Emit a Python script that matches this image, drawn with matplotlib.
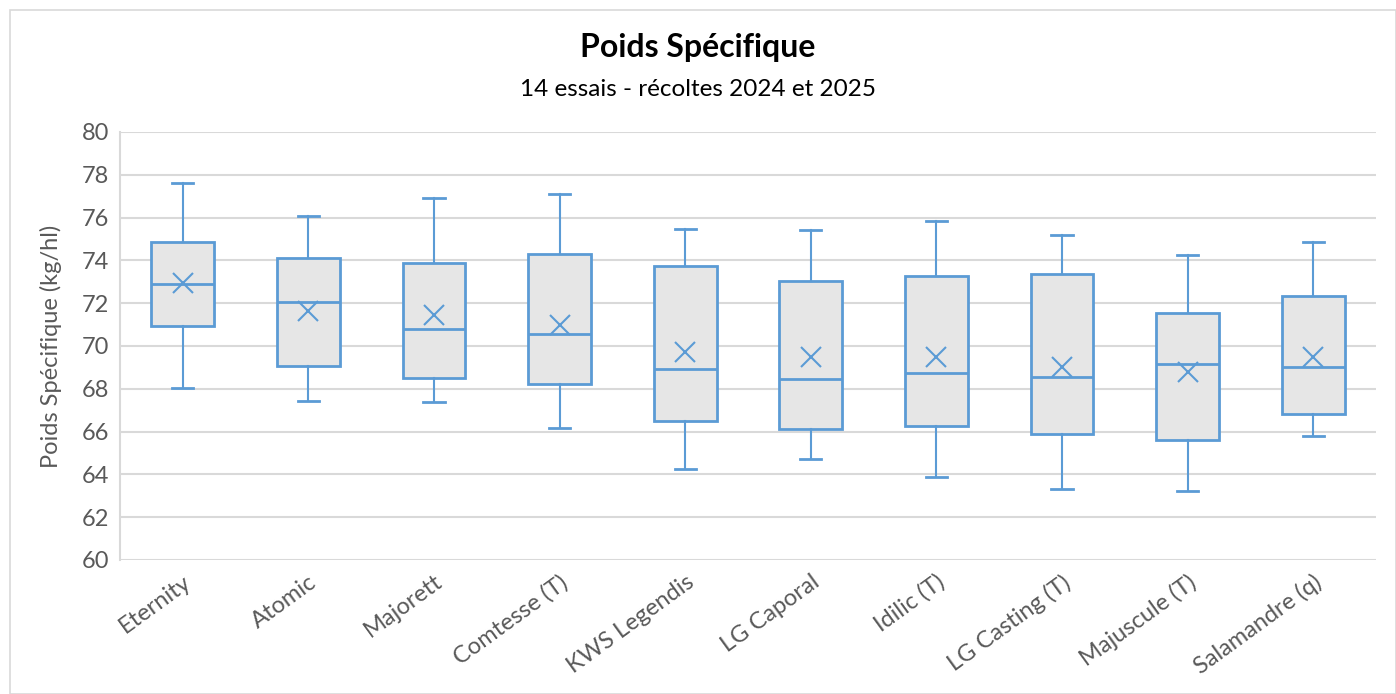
import numpy as np
import matplotlib.pyplot as plt
from matplotlib.patches import Rectangle

plt.rcParams['font.family'] = ['Lato', 'DejaVu Sans']

varietes = ['Eternity', 'Atomic', 'Majorett', 'Comtesse (T)', 'KWS Legendis',
            'LG Caporal', 'Idilic (T)', 'LG Casting (T)', 'Majuscule (T)', 'Salamandre (q)']
minimum = [68.04, 67.43, 67.38, 66.17, 64.25, 64.72, 63.88, 63.32, 63.22, 65.79]
q1 = [70.93, 69.07, 68.50, 68.22, 66.50, 66.12, 66.26, 65.89, 65.60, 66.82]
mediane = [72.90, 72.06, 70.79, 70.56, 68.93, 68.46, 68.74, 68.55, 69.16, 69.02]
moyenne = [72.94, 71.64, 71.45, 70.98, 69.72, 69.49, 69.49, 69.02, 68.79, 69.49]
q3 = [74.86, 74.11, 73.88, 74.30, 73.74, 73.04, 73.27, 73.36, 71.54, 72.34]
maximum = [77.60, 76.07, 76.92, 77.10, 75.47, 75.42, 75.84, 75.19, 74.25, 74.86]

bleu = '#5B9BD5'
gris_txt = '#595959'

stats = []
for i in range(len(varietes)):
    stats.append({'label': varietes[i], 'whislo': minimum[i], 'q1': q1[i], 'med': mediane[i],
                  'mean': moyenne[i], 'q3': q3[i], 'whishi': maximum[i], 'fliers': []})

fig = plt.figure(figsize=(13.96, 6.94), dpi=100)
fig.patches.append(Rectangle((10/1396, 0), 1 - 10/1396, 1 - 10/694, transform=fig.transFigure,
                             fill=False, edgecolor='#D9D9D9', lw=1.2))
ax = fig.add_axes([120/1396, 134/694, 1256/1396, 428/694])

pos = np.arange(1, len(varietes) + 1)
ax.bxp(stats, positions=pos, widths=0.5, capwidths=0.17, showmeans=True, patch_artist=True,
       boxprops=dict(facecolor='#E6E6E6', edgecolor=bleu, lw=2),
       medianprops=dict(color=bleu, lw=2),
       whiskerprops=dict(color=bleu, lw=1.5),
       capprops=dict(color=bleu, lw=2),
       meanprops=dict(marker='x', markeredgecolor=bleu, markersize=14, markeredgewidth=1.5))

ax.set_xlim(0.5, len(varietes) + 0.5)
ax.set_ylim(60, 80)
ax.set_yticks(np.arange(60, 81, 2))
ax.yaxis.grid(True, color='#D9D9D9', lw=1.5)
ax.set_axisbelow(True)
for s in ['top', 'right', 'bottom']:
    ax.spines[s].set_visible(False)
ax.spines['left'].set_color('#D9D9D9')
ax.spines['left'].set_linewidth(1.5)
ax.tick_params(length=0, labelsize=17, colors=gris_txt, pad=8)
ax.set_xticks(pos)
ax.set_xticklabels(varietes, rotation=36, ha='right', rotation_mode='anchor', fontsize=17)
ax.set_ylabel('Poids Spécifique (kg/hl)', fontsize=17, color=gris_txt, labelpad=14)

fig.text(0.5, 1 - 47/694, 'Poids Spécifique', ha='center', va='center', fontsize=23,
         fontweight='bold', color='black')
fig.text(0.5, 1 - 89/694, '14 essais - récoltes 2024 et 2025', ha='center', va='center',
         fontsize=17.5, color='black')

fig.savefig('out.png', dpi=100)
